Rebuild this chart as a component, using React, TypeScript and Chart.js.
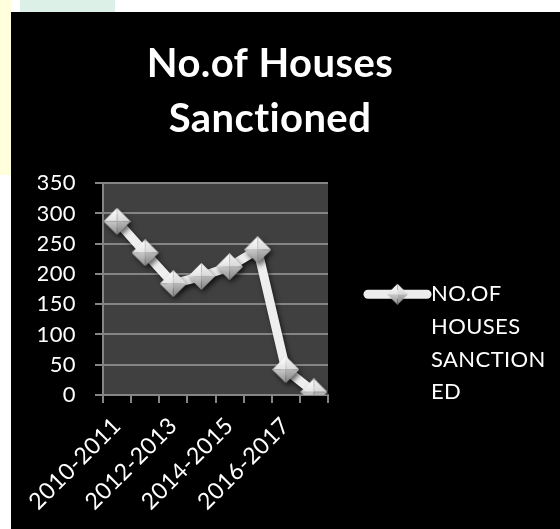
import React, { useEffect, useRef } from 'react';
import { Chart, registerables } from 'chart.js';

Chart.register(...registerables);

const categories = [
  '2010-2011', '2011-2012', '2012-2013', '2013-2014',
  '2014-2015', '2015-2016', '2016-2017', '2017-2018',
];
const housesSanctioned = [287, 235, 184, 196, 212, 240, 42, 5];
const seriesLabel = 'NO.OF HOUSES SANCTIONED';
const legendLines = ['NO.OF', 'HOUSES', 'SANCTION', 'ED'];
const titleLines = ['No.of Houses', 'Sanctioned'];
const yMin = 0;
const yMax = 350;
const yStep = 50;

const FONT = 'Lato, "Open Sans", sans-serif';
const GRID = '#858585';

function makeDiamond(size: number): HTMLCanvasElement {
  const c = document.createElement('canvas');
  c.width = size;
  c.height = size;
  const g = c.getContext('2d')!;
  const h = size / 2;
  const tri = (pts: number[][], fill: string | CanvasGradient) => {
    g.beginPath();
    g.moveTo(pts[0][0], pts[0][1]);
    for (let i = 1; i < pts.length; i++) g.lineTo(pts[i][0], pts[i][1]);
    g.closePath();
    g.fillStyle = fill;
    g.fill();
  };
  const top = [h, 0], right = [size, h], bottom = [h, size], left = [0, h], mid = [h, h];
  const gTop = g.createLinearGradient(0, 0, 0, h);
  gTop.addColorStop(0, '#ffffff');
  gTop.addColorStop(1, '#e4e4e4');
  tri([top, mid, left], gTop);
  const gTop2 = g.createLinearGradient(0, 0, 0, h);
  gTop2.addColorStop(0, '#f4f4f4');
  gTop2.addColorStop(1, '#d8d8d8');
  tri([top, right, mid], gTop2);
  const gBot = g.createLinearGradient(0, h, 0, size);
  gBot.addColorStop(0, '#c8c8c8');
  gBot.addColorStop(1, '#8f8f8f');
  tri([left, mid, bottom], gBot);
  const gBot2 = g.createLinearGradient(0, h, 0, size);
  gBot2.addColorStop(0, '#b8b8b8');
  gBot2.addColorStop(1, '#828282');
  tri([mid, right, bottom], gBot2);
  return c;
}

export default function App() {
  const canvasRef = useRef<HTMLCanvasElement | null>(null);

  useEffect(() => {
    if (!canvasRef.current) return;
    const marker = makeDiamond(27);
    const legendMarker = makeDiamond(21);

    const decor = {
      id: 'decor',
      beforeDraw(chart: any) {
        const { ctx, chartArea: a } = chart;
        try { (ctx as any).letterSpacing = '0.4px'; } catch (e) { /* ignore */ }
        ctx.save();
        ctx.fillStyle = '#000000';
        ctx.fillRect(0, 0, chart.width, chart.height);
        ctx.fillStyle = '#404040';
        ctx.fillRect(a.left, a.top, a.right - a.left, a.bottom - a.top);
        ctx.restore();
      },
      beforeDatasetsDraw(chart: any) {
        const ctx = chart.ctx;
        ctx.save();
        ctx.shadowColor = 'rgba(0,0,0,0.6)';
        ctx.shadowBlur = 5;
        ctx.shadowOffsetX = 2;
        ctx.shadowOffsetY = 3;
      },
      afterDatasetsDraw(chart: any) {
        chart.ctx.restore();
      },
      afterDraw(chart: any) {
        const { ctx, chartArea: a } = chart;
        const ly = a.top + 111;
        const x0 = a.right + 40;
        const x1 = a.right + 99;
        ctx.save();
        ctx.strokeStyle = '#ececec';
        ctx.lineWidth = 9;
        ctx.lineCap = 'round';
        ctx.beginPath();
        ctx.moveTo(x0, ly);
        ctx.lineTo(x1, ly);
        ctx.stroke();
        ctx.drawImage(legendMarker, (x0 + x1) / 2 - legendMarker.width / 2, ly - legendMarker.height / 2);
        ctx.fillStyle = '#ffffff';
        ctx.font = `22px ${FONT}`;
        ctx.textAlign = 'left';
        ctx.textBaseline = 'middle';
        legendLines.forEach((t, i) => {
          ctx.fillText(t, a.right + 103, ly + i * 32.7);
        });
        ctx.restore();
      },
    };

    const chart = new Chart(canvasRef.current, {
      type: 'line',
      data: {
        labels: categories,
        datasets: [
          {
            label: seriesLabel,
            data: housesSanctioned,
            borderColor: '#eeeeee',
            borderWidth: 9,
            tension: 0,
            pointStyle: marker as any,
            pointRadius: 13,
            pointHoverRadius: 13,
          },
        ],
      },
      options: {
        animation: false,
        responsive: true,
        maintainAspectRatio: false,
        events: [],
        layout: { padding: { left: 27, right: 58, top: 0, bottom: 0 } },
        plugins: {
          legend: { display: false },
          tooltip: { enabled: false },
          title: {
            display: true,
            text: titleLines,
            color: '#ffffff',
            font: { family: FONT, size: 40, weight: 'bold', lineHeight: 1.39 },
            padding: { top: 24, bottom: 36 },
          },
        },
        scales: {
          x: {
            type: 'category',
            offset: true,
            grid: {
              display: true,
              drawOnChartArea: false,
              drawTicks: true,
              tickLength: 8,
              color: GRID,
              lineWidth: 2,
              offset: true,
            },
            border: { display: true, color: GRID, width: 2 },
            ticks: {
              color: '#ffffff',
              font: { family: FONT, size: 23 },
              minRotation: 45,
              maxRotation: 45,
              autoSkip: false,
              padding: 9,
              callback(this: any, v: any, i: number) {
                return i % 2 === 0 ? this.getLabelForValue(v) : '';
              },
            },
            afterFit(s: any) {
              s.height = 134;
              s.paddingLeft = 0;
              s.paddingRight = 0;
            },
          },
          y: {
            min: yMin,
            max: yMax,
            ticks: {
              stepSize: yStep,
              color: '#ffffff',
              font: { family: FONT, size: 22 },
              padding: 19,
            },
            grid: { color: GRID, lineWidth: 2, tickLength: 8, drawTicks: true },
            border: { display: true, color: GRID, width: 2 },
            afterFit(s: any) {
              s.width = 65;
            },
          },
          y2: {
            position: 'right',
            display: true,
            grid: { display: false },
            ticks: { display: false },
            border: { display: false },
            afterFit(s: any) {
              s.width = 174;
            },
          },
        },
      } as any,
      plugins: [decor],
    });
    return () => chart.destroy();
  }, []);

  return (
    <div style={{ position: 'absolute', left: 0, top: 0, width: 560, height: 529, background: '#ffffff', overflow: 'hidden' }}>
      <div style={{ position: 'absolute', left: 0, top: 0, width: 11, height: 175, background: '#ffffdc' }} />
      <div style={{ position: 'absolute', left: 20, top: 0, width: 95, height: 12, background: '#dcf0e8' }} />
      <div style={{ position: 'absolute', left: 11, top: 12, width: 549, height: 517, background: '#000000' }}>
        <canvas ref={canvasRef} />
      </div>
    </div>
  );
}
